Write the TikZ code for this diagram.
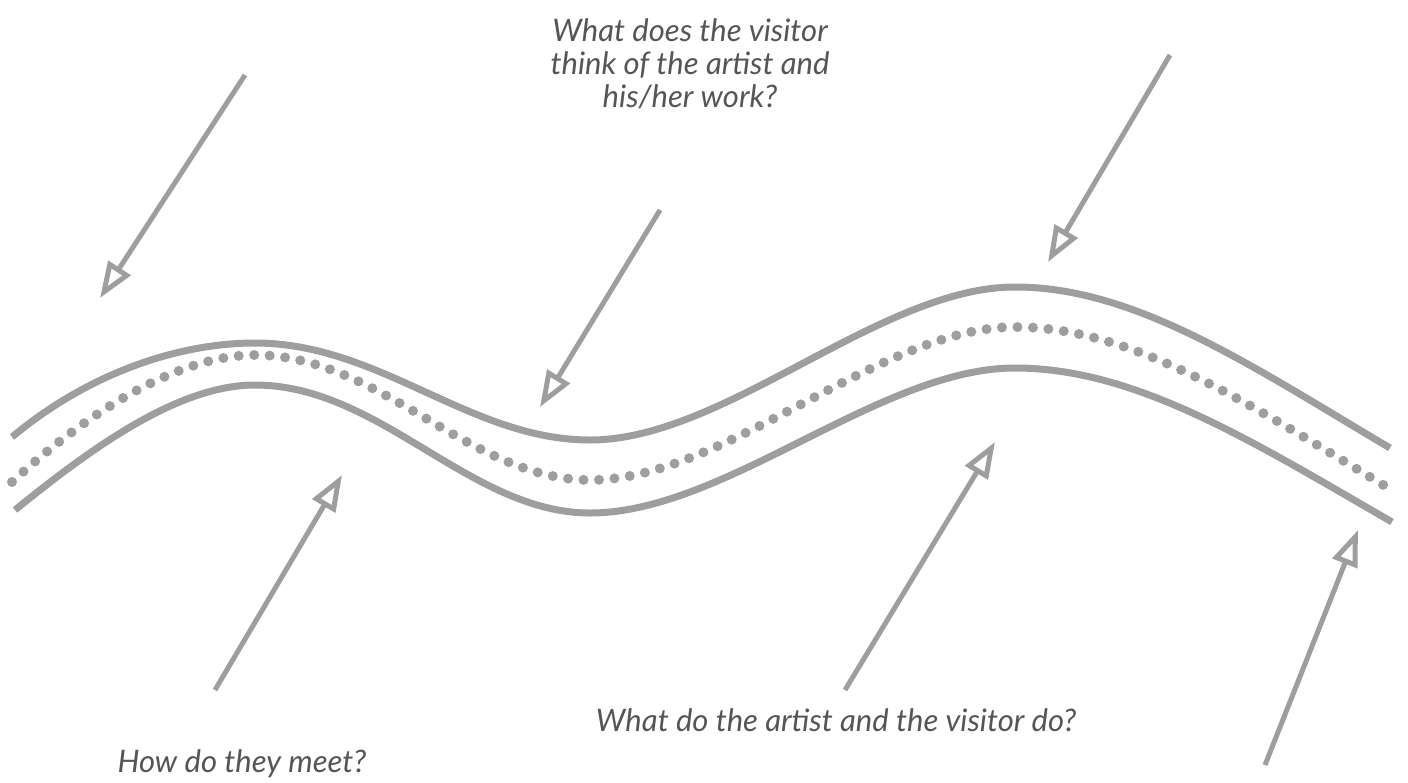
\documentclass[tikz,border=0pt]{standalone}
\usepackage{fontspec}
\setmainfont{Lato}
\usepackage{xcolor}
\definecolor{road}{RGB}{158,158,158}
\definecolor{ink}{RGB}{85,85,85}
\usepackage{tikz}
\usetikzlibrary{arrows.meta,positioning}

\begin{document}
\begin{tikzpicture}[x=1pt,y=-1pt,
  edge/.style={road,line width=7pt},
  middot/.style={road,line width=10pt,line cap=round,dash pattern=on 0pt off 15.5pt},
  pencil/.style={road,line width=5pt,-{Triangle[open,length=36pt,width=26pt,line width=5pt]}},
  question/.style={ink,font=\fontsize{31}{33}\selectfont\itshape,align=center}]
  \useasboundingbox (0,0) rectangle (1408,782);
  % road edges
  \draw[edge] (12,437) .. controls (90,372) and (180,343) .. (255,343)
    .. controls (380,343) and (470,440) .. (590,440)
    .. controls (725,440) and (880,287) .. (1015,287)
    .. controls (1135,287) and (1250,365) .. (1390,448);
  \draw[middot] (12,482) .. controls (90,410) and (180,355) .. (255,355)
    .. controls (380,355) and (470,480) .. (590,480)
    .. controls (725,480) and (880,327) .. (1015,327)
    .. controls (1135,327) and (1250,405) .. (1395,492);
  \draw[edge] (15,510) .. controls (95,445) and (180,385) .. (255,385)
    .. controls (380,385) and (470,513) .. (590,513)
    .. controls (725,513) and (880,368) .. (1015,368)
    .. controls (1135,368) and (1250,440) .. (1392,522);
  % questions
  \node[question] (think) at (690,64) {What does the visitor\\think of the artist and\\his/her work?};
  \node[question] (doing) at (836,720) {What do the artist and the visitor do?};
  \node[question,anchor=west] (meet) at (114,764) {How do they meet?};
  % pencil arrows
  \coordinate (a1) at (245,75);   \coordinate (b1) at (100,298);
  \coordinate (a2) at (660,210);  \coordinate (b2) at (540,407);
  \coordinate (a3) at (1170,55);  \coordinate (b3) at (1048,262);
  \coordinate (a4) at (215,690);  \coordinate (b4) at (342,475);
  \coordinate (a5) at (845,690);  \coordinate (b5) at (995,442);
  \coordinate (a6) at (1265,765); \coordinate (b6) at (1358,530);
  \draw[pencil] (a1) -- (b1);
  \draw[pencil] (a2) -- (b2);
  \draw[pencil] (a3) -- (b3);
  \draw[pencil] (a4) -- (b4);
  \draw[pencil] (a5) -- (b5);
  \draw[pencil] (a6) -- (b6);
\end{tikzpicture}
\end{document}
